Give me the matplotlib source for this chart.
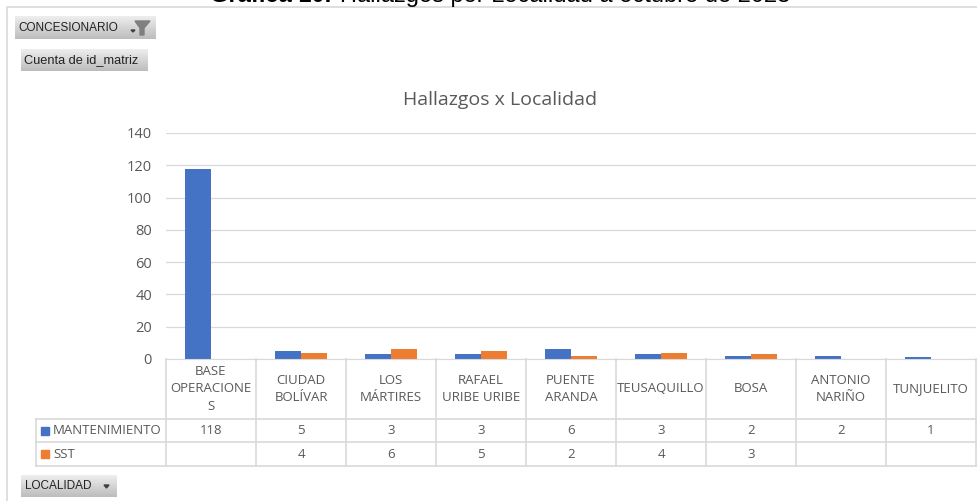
import matplotlib
matplotlib.use('Agg')
import matplotlib.pyplot as plt
from matplotlib.patches import Rectangle, Polygon
import numpy as np

W, H = 978, 501

localidades = ['BASE\nOPERACIONE\nS', 'CIUDAD\nBOLÍVAR', 'LOS\nMÁRTIRES', 'RAFAEL\nURIBE URIBE',
               'PUENTE\nARANDA', 'TEUSAQUILLO', 'BOSA', 'ANTONIO\nNARIÑO', 'TUNJUELITO']
mantenimiento = [118, 5, 3, 3, 6, 3, 2, 2, 1]
sst = [None, 4, 6, 5, 2, 4, 3, None, None]
y_ticks = [0, 20, 40, 60, 80, 100, 120, 140]
azul = '#4472C4'
naranja = '#ED7D31'
gris = '#595959'
linea = '#D9D9D9'

plt.rcParams['font.family'] = ['Open Sans', 'DejaVu Sans']

fig = plt.figure(figsize=(W / 100, H / 100), dpi=100)

# capa de fondo en pixeles, para marco, tabla y botones
bg = fig.add_axes([0, 0, 1, 1])
bg.set_xlim(0, W)
bg.set_ylim(H, 0)
bg.axis('off')

# grafico de barras
ax = fig.add_axes([166 / W, 1 - 359 / H, 810 / W, 226 / H])
x = range(len(localidades))
ax.bar([i - 0.145 for i in x], mantenimiento, width=0.29, color=azul)
ax.bar([i + 0.145 for i in x], [v or 0 for v in sst], width=0.29, color=naranja)
ax.set_xlim(-0.5, 8.5)
ax.set_ylim(0, 140)
ax.set_yticks(y_ticks)
ax.set_xticks([])
ax.tick_params(axis='y', length=0, pad=10, labelsize=10.5, labelcolor=gris)
ax.grid(axis='y', color=linea, linewidth=0.9)
ax.set_axisbelow(True)
for s in ['top', 'left', 'right']:
    ax.spines[s].set_visible(False)
ax.spines['bottom'].set_color(linea)
ax.patch.set_alpha(0)

# marco del area de grafico
bg.plot([7, 7, 978], [501, 6.5, 6.5], color='#D9D9D9', lw=1.2)

bg.text(500, 100, 'Hallazgos x Localidad', ha='center', va='center', fontsize=14, color=gris)

# titulo cortado arriba, como en el original
bg.text(331, 1.5, 'Gráfica 10.', ha='right', va='baseline', fontsize=17, color='black',
        family='Liberation Sans', fontweight='bold')
bg.text(340, 1.5, 'Hallazgos por Localidad a octubre de 2023', ha='left', va='baseline',
        fontsize=17, color='black', family='Liberation Sans')

# tabla de datos
col_w = 90
x0, y0, y1, y2, y3 = 166, 359, 419, 442, 466
for i in range(10):
    xc = x0 + i * col_w
    bg.plot([xc, xc], [y0, y3], color=linea, lw=1.2)
bg.plot([36, 36], [y1, y3], color=linea, lw=1.2)
bg.plot([36, 976], [y1, y1], color=linea, lw=1.2)
bg.plot([36, 976], [y2, y2], color=linea, lw=1.2)
bg.plot([36, 976], [y3, y3], color=linea, lw=1.2)

for i, nombre in enumerate(localidades):
    xc = x0 + (i + 0.5) * col_w
    bg.text(xc, (y0 + y1) / 2, nombre, ha='center', va='center', fontsize=9.5, color=gris, linespacing=1.45)
    bg.text(xc, (y1 + y2) / 2, str(mantenimiento[i]), ha='center', va='center', fontsize=9.5, color=gris)
    if sst[i] is not None:
        bg.text(xc, (y2 + y3) / 2, str(sst[i]), ha='center', va='center', fontsize=9.5, color=gris)

bg.add_patch(Rectangle((41, 427), 8, 8, color=azul))
bg.add_patch(Rectangle((41, 450), 8, 8, color=naranja))
bg.text(53, (y1 + y2) / 2, 'MANTENIMIENTO', va='center', fontsize=9.5, color=gris)
bg.text(53, (y2 + y3) / 2, 'SST', va='center', fontsize=9.5, color=gris)


def boton(x, y, w, h, texto, size=8.5):
    degradado = np.linspace(0.93, 0.74, 30).reshape(-1, 1)
    bg.imshow(degradado, extent=(x, x + w, y + h, y), cmap='gray', vmin=0, vmax=1, aspect='auto',
              origin='upper', zorder=2)
    bg.text(x + 3.5, y + h / 2, texto, va='center', fontsize=size, color='#222222',
            family='Liberation Sans', zorder=3)


boton(15, 16, 141, 23, 'CONCESIONARIO')
boton(21, 49, 127, 22, 'Cuenta de id_matriz', size=9.2)
boton(21, 475, 96, 22, 'LOCALIDAD')
bg.set_xlim(0, W)
bg.set_ylim(H, 0)

# iconos de filtro y desplegable
bg.add_patch(Polygon([(135, 21), (150, 21), (144, 28), (144, 35), (140, 35), (140, 28)], color='#7F7F7F', zorder=4))
bg.add_patch(Polygon([(131, 30), (135, 30), (133, 32)], color='#404040', zorder=4))
bg.add_patch(Polygon([(104, 485), (109, 485), (106.5, 488)], color='#404040', zorder=4))

fig.savefig('out.png', dpi=100)
